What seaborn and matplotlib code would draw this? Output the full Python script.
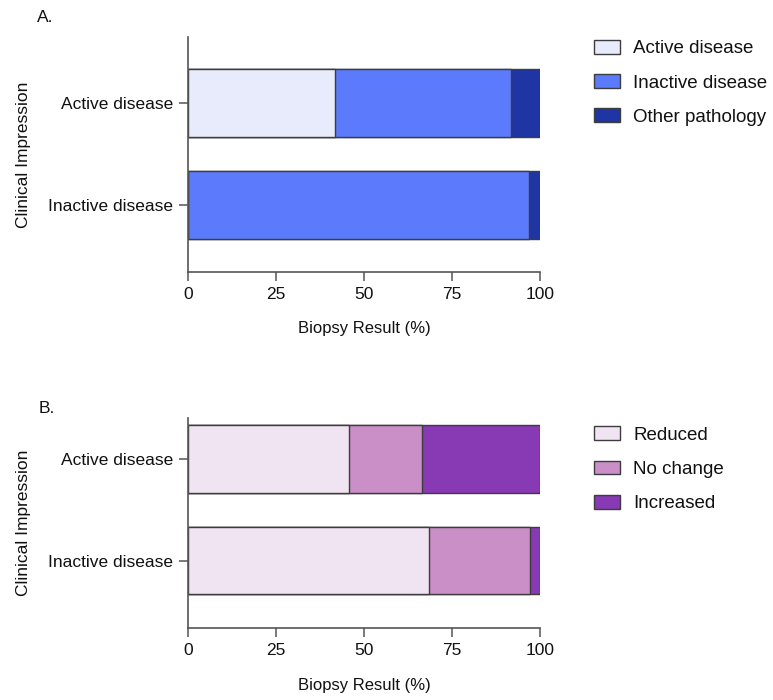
import numpy as np
import matplotlib
matplotlib.use("Agg")
import matplotlib.pyplot as plt
from matplotlib.patches import Patch
import seaborn as sns

# data (percent of biopsies)
impressions = ["Active disease", "Inactive disease"]

result_labels = ["Active disease", "Inactive disease", "Other pathology"]
result_active = [41.7, 50.0, 8.3]
result_inactive = [0.0, 97.0, 3.0]
result_colors = ["#E8EBFB", "#5C7BFC", "#1F35A3"]

change_labels = ["Reduced", "No change", "Increased"]
change_active = [45.8, 20.8, 33.4]
change_inactive = [68.6, 28.5, 2.9]
change_colors = ["#F0E4F2", "#C98FC6", "#8839B4"]

sns.set_theme(style="ticks")
plt.rcParams["font.family"] = ["Liberation Sans", "DejaVu Sans"]
plt.rcParams["text.color"] = "#111111"
plt.rcParams["axes.labelcolor"] = "#111111"
plt.rcParams["xtick.labelcolor"] = "#111111"
plt.rcParams["ytick.labelcolor"] = "#111111"

EDGE = "#3d3d3d"


def stacked_panel(ax, active, inactive, labels, colors, ylim, legend_top):
    vals = np.array([active, inactive])
    cum = np.cumsum(vals, axis=1)
    # draw cumulative totals from the longest down so each segment shows
    for i in range(len(labels) - 1, -1, -1):
        sns.barplot(x=cum[:, i], y=impressions, orient="h", color=colors[i],
                    width=0.66, edgecolor=EDGE, linewidth=1.0, saturation=1,
                    ax=ax)
    ax.set_xlim(0, 100)
    ax.set_ylim(*ylim)
    ax.set_xticks([0, 25, 50, 75, 100])
    ax.tick_params(axis="both", labelsize=12.5, length=6.5, width=1.1,
                   color="#555555", pad=4)
    for s in ["top", "right"]:
        ax.spines[s].set_visible(False)
    for s in ["left", "bottom"]:
        ax.spines[s].set_color("#555555")
        ax.spines[s].set_linewidth(1.2)
    ax.set_xlabel("Biopsy Result (%)", fontsize=12)
    ax.set_ylabel("Clinical Impression", fontsize=12.5)
    handles = [Patch(facecolor=c, edgecolor=EDGE, linewidth=1.0) for c in colors]
    ax.legend(handles, labels, loc="upper left",
              bbox_to_anchor=(0.768, legend_top), bbox_transform=fig.transFigure,
              frameon=False, fontsize=13.5, borderaxespad=0, borderpad=0,
              handlelength=1.4, handleheight=0.75, handletextpad=0.7,
              labelspacing=0.9)


fig = plt.figure(figsize=(7.73, 7.0), dpi=100)
ax_a = fig.add_axes([0.2432, 0.6114, 0.4554, 0.3357])
ax_b = fig.add_axes([0.2432, 0.1029, 0.4554, 0.3000])

stacked_panel(ax_a, result_active, result_inactive, result_labels,
              result_colors, (1.657, -0.647), 0.943)
stacked_panel(ax_b, change_active, change_inactive, change_labels,
              change_colors, (1.662, -0.403), 0.391)

ax_a.xaxis.set_label_coords(0.5, -0.2085)
ax_b.xaxis.set_label_coords(0.5, -0.238)
ax_a.yaxis.set_label_coords(-0.445, 0.5)
ax_b.yaxis.set_label_coords(-0.445, 0.5)

fig.text(0.048, 0.975, "A.", fontsize=12.5, va="center")
fig.text(0.050, 0.417, "B.", fontsize=12.5, va="center")

fig.savefig("out.png", dpi=100)
